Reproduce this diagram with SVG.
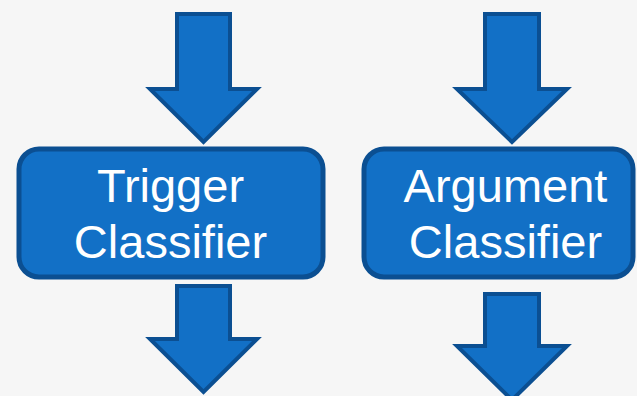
<svg xmlns="http://www.w3.org/2000/svg" width="637" height="396" viewBox="0 0 637 396">
<style>
.arrow{fill:#1270c6;stroke:#0b4f92;stroke-width:4;stroke-linejoin:miter}
.box{fill:#1270c6;stroke:#0b4f92;stroke-width:5}
.lbl{font-family:"Liberation Sans",Arial,sans-serif;font-size:47px;fill:#ffffff;text-anchor:middle}
</style>
<rect x="0" y="0" width="637" height="396" fill="#f6f6f6"/>
<g id="connectors">
<polygon class="arrow" points="177,14 230,14 230,89 257,89 203.5,142 150,89 177,89"/>
<polygon class="arrow" points="177,286 230,286 230,339 257,339 203.5,392 150,339 177,339"/>
<polygon class="arrow" points="485,14 539,14 539,89 567,89 512,142 457,89 485,89"/>
<polygon class="arrow" points="485,294 539,294 539,346 567,346 512,400 457,346 485,346"/>
</g>
<g id="trigger">
<rect class="box" x="19" y="149" width="304" height="128" rx="20"/>
<text class="lbl" x="170.5" y="202">Trigger</text>
<text class="lbl" x="170.5" y="258">Classifier</text>
</g>
<g id="argument">
<rect class="box" x="364" y="149" width="269" height="128" rx="20"/>
<text class="lbl" x="505.5" y="202">Argument</text>
<text class="lbl" x="505.5" y="258">Classifier</text>
</g>
</svg>
